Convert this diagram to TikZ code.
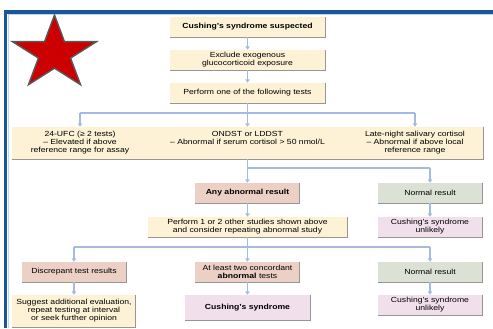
\documentclass[tikz,border=0pt]{standalone}
\usepackage{fontspec}
\setmainfont{Liberation Sans}[FakeStretch=1.17]
\usepackage{tikz}
\usetikzlibrary{positioning,calc,arrows.meta}
\definecolor{framblue}{RGB}{26,86,156}
\definecolor{framlight}{RGB}{190,214,236}
\definecolor{linkblue}{RGB}{166,186,222}
\definecolor{creamfill}{RGB}{253,241,214}
\definecolor{pinkfill}{RGB}{236,208,197}
\definecolor{greenfill}{RGB}{219,226,213}
\definecolor{purplefill}{RGB}{241,223,236}
\definecolor{rimgray}{RGB}{150,150,150}
\definecolor{starred}{RGB}{204,0,0}
\tikzset{
  flowchartpic/.style={
    x=0.03cm,y=-0.03cm
    ,font=\fontsize{6.3}{6.9}\selectfont
  }
  ,boxb/.style={
    rectangle, inner sep=0pt, align=center,
    minimum width=3.12cm, minimum height=0.6cm
  }
  ,creamb/.style={boxb,fill=creamfill}
  ,pinkb/.style={boxb,fill=pinkfill}
  ,greenb/.style={boxb,fill=greenfill}
  ,purpleb/.style={boxb,fill=purplefill}
  ,coltext/.style={inner sep=0pt, align=center, anchor=north}
  ,rim/.style={draw=rimgray, line width=0.6pt}
  ,line/.style={draw=linkblue, line width=1.3pt}
  ,flow/.style={line, -{Triangle[width=3.6pt,length=2.8pt]}}
  ,redstar/.style={fill=starred, draw=black!65, line width=1.2pt, line join=miter}
}
\begin{document}
\begin{tikzpicture}[flowchartpic]
    \useasboundingbox (0,0) rectangle (493,328);
    % frame
    \draw[framlight, line width=0.8pt] (8,328) -- (8,14.5) -- (493,14.5);
    \draw[framblue, line width=2.6pt] (5.5,328) -- (5.5,12) -- (493,12);
    % star
    \begin{scope}[shift={(54.5,53.5)}, xscale=1.15, yscale=-1]
      \draw[redstar] (90:38.5) -- (126:14.7) -- (162:38.5) -- (198:14.7)
        -- (234:38.5) -- (270:14.7) -- (306:38.5) -- (342:14.7)
        -- (18:38.5) -- (54:14.7) -- cycle;
    \end{scope}
    % top column
    \node[creamb, minimum width=4.65cm] (suspect) at (247.5,27) {\textbf{Cushing's syndrome suspected}};
    \node[creamb, minimum width=4.65cm] (exclude) at (247.5,60) {Exclude exogenous\\glucocorticoid exposure};
    \node[creamb, minimum width=4.65cm] (perform) at (247.5,93) {Perform one of the following tests};
    % tests
    \node[creamb, minimum width=14.13cm, minimum height=0.96cm] (tests) at (247.5,143) {};
    \node[coltext] (ufc) at (80,131) {24-UFC (≥ 2 tests)\\– Elevated if above\\reference range for assay};
    \node[coltext] (ondst) at (247.5,131) {ONDST or LDDST\\– Abnormal if serum cortisol > 50 nmol/L};
    \node[coltext] (saliva) at (415,131) {Late-night salivary cortisol\\– Abnormal if above local\\reference range};
    % results
    \node[pinkb] (anyabn) at (247.5,193) {\textbf{Any abnormal result}};
    \node[greenb] (norma) at (430,193) {Normal result};
    \node[creamb, minimum width=5.97cm] (repeat) at (247.5,227) {Perform 1 or 2 other studies shown above\\and consider repeating abnormal study};
    \node[purpleb] (unlika) at (430,227) {Cushing's syndrome\\unlikely};
    \node[pinkb] (discrep) at (74,272) {Discrepant test results};
    \node[pinkb] (concord) at (247.5,272) {At least two concordant\\\textbf{abnormal} tests};
    \node[greenb] (normb) at (430,272) {Normal result};
    \node[creamb, minimum width=3.69cm, minimum height=0.96cm] (suggest) at (74,311) {Suggest additional evaluation,\\repeat testing at interval\\or seek further opinion};
    \node[purpleb, minimum width=3.75cm, minimum height=0.75cm] (cushing) at (247.5,307.5) {\textbf{Cushing's syndrome}};
    \node[purpleb] (unlikb) at (430,305) {Cushing's syndrome\\unlikely};
    \foreach \n in {suspect,exclude,perform,tests,anyabn,norma,repeat,unlika,discrep,concord,normb,suggest,cushing,unlikb}
      \draw[rim] (\n.north east) -- (\n.south east) -- (\n.south west);
    % connectors
    \coordinate (splita) at (247.5,113);
    \coordinate (splitb) at (247.5,168);
    \coordinate (splitc) at (247.5,247);
    \draw[flow] (suspect) -- (exclude);
    \draw[flow] (exclude) -- (perform);
    \draw[flow] (perform) -- (perform |- tests.north);
    \draw[line] (ufc |- splita) -- (saliva |- splita);
    \draw[flow] (ufc |- splita) -- (ufc |- tests.north);
    \draw[flow] (saliva |- splita) -- (saliva |- tests.north);
    \draw[flow] (anyabn |- tests.south) -- (anyabn);
    \draw[line] (splitb) -- (norma |- splitb);
    \draw[flow] (norma |- splitb) -- (norma);
    \draw[flow] (anyabn) -- (repeat);
    \draw[flow] (norma) -- (unlika);
    \draw[flow] (repeat) -- (concord);
    \draw[line] (discrep |- splitc) -- (normb |- splitc);
    \draw[flow] (discrep |- splitc) -- (discrep);
    \draw[flow] (normb |- splitc) -- (normb);
    \draw[flow] (discrep) -- (suggest);
    \draw[flow] (concord) -- (cushing);
    \draw[flow] (normb) -- (unlikb);
\end{tikzpicture}
\end{document}
